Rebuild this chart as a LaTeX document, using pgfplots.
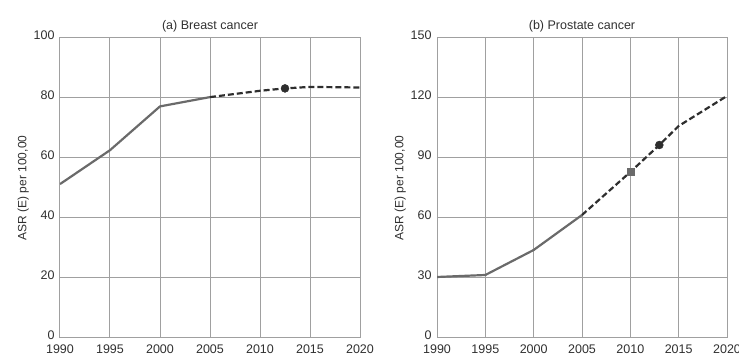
\documentclass[border=0pt]{standalone}
\usepackage{pgfplots}
\pgfplotsset{compat=1.18}
\usepackage{fontspec}
\setmainfont{Liberation Sans}
\definecolor{gridc}{HTML}{A0A0A0}
\definecolor{solidc}{HTML}{6A6A6A}
\definecolor{dashc}{HTML}{2E2E2E}
\definecolor{txt}{HTML}{303030}
\pgfplotsset{
  common/.style={
    scale only axis, height=300pt,
    xmin=1990, xmax=2020, xtick={1990,1995,...,2020},
    grid=major, major grid style={gridc, line width=1pt},
    axis line style={gridc, line width=1pt},
    tick style={draw=none},
    ticklabel style={font=\fontsize{12.5}{14}\selectfont, text=txt},
    /pgf/number format/assume math mode=true,
    /pgf/number format/1000 sep={},
    xticklabel style={yshift=-3pt},
    yticklabel style={xshift=-2pt, yshift=3pt},
    ylabel style={font=\fontsize{12}{14}\selectfont, text=txt},
    ylabel shift=-2pt,
    ylabel={ASR (E) per 100,00},
    title style={font=\fontsize{12.5}{14}\selectfont, text=txt, yshift=-4pt},
  }
}
\begin{document}
\begin{tikzpicture}
\path[use as bounding box] (-60pt,-20pt) rectangle (679pt,338pt);
\begin{axis}[common, at={(0pt,0pt)}, anchor=south west, width=300pt,
  ymin=0, ymax=100, ytick={0,20,...,100}, title={(a) Breast cancer}]
\addplot[solidc, line width=2.2pt] coordinates {(1990,51.3) (1995,62.6) (2000,77.2) (2005,80.3)};
\addplot[dashc, line width=2.2pt, dash pattern=on 6pt off 3pt] coordinates {(2005,80.3) (2010,82.4) (2012.5,83.2) (2015,83.7) (2020,83.5)};
\addplot[only marks, mark=*, mark size=4pt, dashc] coordinates {(2012.5,83.2)};
\end{axis}
\begin{axis}[common, at={(377pt,0pt)}, anchor=south west, width=290pt,
  ymin=0, ymax=150, ytick={0,30,...,150}, title={(b) Prostate cancer}]
\addplot[solidc, line width=2.2pt] coordinates {(1990,30.5) (1995,31.5) (2000,44) (2005,61.5)};
\addplot[dashc, line width=2.2pt, dash pattern=on 6pt off 3pt] coordinates {(2005,61.5) (2010,83) (2013,96.5) (2015,106) (2020,121)};
\addplot[only marks, mark=square*, mark size=3.5pt, solidc] coordinates {(2010,83)};
\addplot[only marks, mark=*, mark size=4pt, dashc] coordinates {(2013,96.5)};
\end{axis}
\end{tikzpicture}
\end{document}
